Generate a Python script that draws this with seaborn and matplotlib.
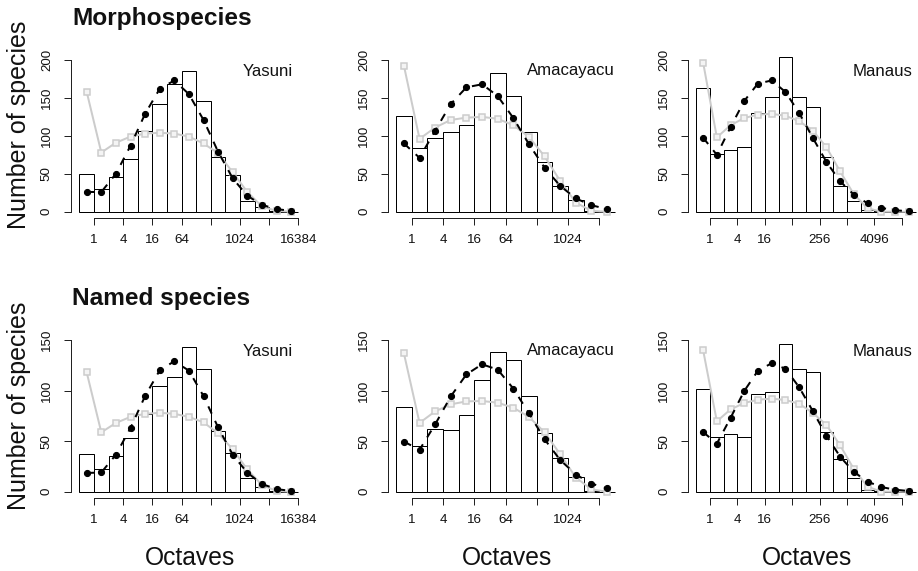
import numpy as np
import pandas as pd
import matplotlib
matplotlib.use("Agg")
import matplotlib.pyplot as plt
import seaborn as sns

# ---------------- data ----------------
sites = ["Yasuni", "Amacayacu", "Manaus"]
groups = ["Morphospecies", "Named species"]

yasuni_ticklabels = ["1", "4", "16", "64", "", "1024", "", "16384"]
amacayacu_ticklabels = ["1", "4", "16", "64", "", "1024", ""]
manaus_ticklabels = ["1", "4", "16", "", "256", "", "4096", ""]

# Morphospecies: observed (bars), black fitted (dashed), grey fitted (solid)
morpho_yasuni_obs = [50, 30, 46, 70, 106, 142, 168, 186, 146, 72, 48, 14, 6, 1, 0]
morpho_yasuni_black = [26, 26, 50, 87, 129, 162, 173, 155, 121, 79, 44, 21, 9, 3.5, 1]
morpho_yasuni_grey = [158, 78, 91, 99, 103, 104, 103, 99, 90, 77, 52, 26, 7, 1, 0.2]

morpho_amacayacu_obs = [126, 83.5, 96.7, 105.5, 114, 153, 183, 152, 105, 65.5, 34, 15, 1, 0]
morpho_amacayacu_black = [90, 71, 107, 142, 164, 168, 152.5, 123.5, 89, 58, 34, 17.5, 8.5, 3.5]
morpho_amacayacu_grey = [192.5, 96, 111, 121, 124, 125, 122.5, 114, 98.5, 73, 40.5, 12, 1, 0]

morpho_manaus_obs = [163.5, 76, 81, 85, 130, 151, 204, 151, 138.5, 71.5, 34, 14, 2, 1, 0.5, 0]
morpho_manaus_black = [97.5, 75, 111.5, 146, 169, 173, 158, 130.5, 97.5, 65.5, 40, 22.5, 11, 5, 2, 0.5]
morpho_manaus_grey = [196.5, 98, 114, 123.5, 128, 129, 126.5, 119.5, 107, 85, 53, 23, 4.5, 0, 0, 0]

# Named species
named_yasuni_obs = [37, 22, 35, 53, 77, 105, 113, 143.5, 121, 60, 38, 14, 5, 0.7, 0]
named_yasuni_black = [18.5, 19, 36.6, 63, 94.6, 120, 129, 119.7, 94.6, 63.6, 36.6, 18.8, 7.6, 2.6, 0.7]
named_yasuni_grey = [118, 58.7, 68, 74, 77, 78, 77, 74, 68.6, 57.7, 42, 22, 6.6, 0.7, 0]

named_amacayacu_obs = [84, 45, 62, 61, 76, 110, 138, 130, 95, 58, 33, 15, 1, 0]
named_amacayacu_black = [49.5, 41.5, 66.6, 94.3, 116, 126, 120.7, 102, 77.5, 51.8, 31.3, 17, 8, 3.3]
named_amacayacu_grey = [136.8, 68, 79.5, 86.4, 89.3, 89.7, 88, 83, 74, 58.7, 37, 14, 2.3, 0]

named_manaus_obs = [102, 54, 57, 54, 97, 99, 146, 121, 118, 59, 32.6, 14, 2, 1, 0.3, 0]
named_manaus_black = [59, 47.5, 73, 99.6, 119.7, 127, 121.6, 103.5, 79.8, 55.4, 34.6, 19.5, 10, 4.6, 2, 0.7]
named_manaus_grey = [139.8, 69.6, 81.4, 87.7, 91, 92, 90.7, 87, 78, 66, 45.8, 22.4, 5, 0, 0, 0]

yticks_morpho = [0, 50, 100, 150, 200]
yticks_named = [0, 50, 100, 150]

panels = [
    [(morpho_yasuni_obs, morpho_yasuni_black, morpho_yasuni_grey, yasuni_ticklabels),
     (morpho_amacayacu_obs, morpho_amacayacu_black, morpho_amacayacu_grey, amacayacu_ticklabels),
     (morpho_manaus_obs, morpho_manaus_black, morpho_manaus_grey, manaus_ticklabels)],
    [(named_yasuni_obs, named_yasuni_black, named_yasuni_grey, yasuni_ticklabels),
     (named_amacayacu_obs, named_amacayacu_black, named_amacayacu_grey, amacayacu_ticklabels),
     (named_manaus_obs, named_manaus_black, named_manaus_grey, manaus_ticklabels)],
]
row_yticks = [yticks_morpho, yticks_named]

# ---------------- layout (pixels) ----------------
W, H = 918, 571
col_layout = [
    dict(left=71.0, bar0=79.4, unit=14.6, right=309.0, site_right=293, xcenter=190),
    dict(left=388.3, bar0=396.1, unit=15.63, right=625.0, site_right=615, xcenter=507),
    dict(left=688.3, bar0=696.3, unit=13.7, right=918.0, site_right=912, xcenter=807),
]
row_layout = [
    dict(zero=211.7, ppu=0.7585, bottom=218.3, top=48.0, title_y=25, site_y=71, ylab_y=125),
    dict(zero=491.7, ppu=1.0113, bottom=498.3, top=328.0, title_y=305, site_y=351, ylab_y=406),
]

sns.set_theme(style="white")
plt.rcParams["font.family"] = ["Liberation Sans", "DejaVu Sans"]

fig = plt.figure(figsize=(W / 100, H / 100), dpi=100)
fig.patch.set_facecolor("white")

GREY = "#cccccc"
PX = 0.72  # points per pixel at 100 dpi

for r, rl in enumerate(row_layout):
    for c, cl in enumerate(col_layout):
        obs, black, grey, xlabels = panels[r][c]
        n = len(obs)
        rect = [cl["left"] / W, 1 - rl["bottom"] / H,
                (cl["right"] - cl["left"]) / W, (rl["bottom"] - rl["top"]) / H]
        ax = fig.add_axes(rect)
        ax.set_facecolor("none")

        centers = np.arange(n) - 0.5
        df = pd.DataFrame({"octave": centers, "obs": obs,
                           "black": black, "grey": grey})

        sns.barplot(data=df, x="octave", y="obs", ax=ax, native_scale=True,
                    width=1.0, color="white", saturation=1, edgecolor="black",
                    linewidth=1.0 * PX, errorbar=None, zorder=1)
        sns.lineplot(data=df, x="octave", y="grey", ax=ax, color=GREY, lw=2 * PX,
                     marker="s", ms=3.9, mfc="#f4f4f4", mec=GREY, mew=1.5 * PX,
                     zorder=2, clip_on=False)
        sns.lineplot(data=df, x="octave", y="black", ax=ax, color="black", lw=2 * PX,
                     dashes=(4, 4), marker="o", ms=4.4, mfc="black", mec="black",
                     zorder=3, clip_on=False)

        xmin = -1 - (cl["bar0"] - cl["left"]) / cl["unit"]
        xmax = -1 + (cl["right"] - cl["bar0"]) / cl["unit"]
        ax.set_xlim(xmin, xmax)
        ymin = -(rl["bottom"] - rl["zero"]) / rl["ppu"]
        ymax = (rl["zero"] - rl["top"]) / rl["ppu"]
        ax.set_ylim(ymin, ymax)

        xt = np.arange(0, 2 * len(xlabels), 2)
        ax.set_xticks(xt)
        ax.set_xticklabels(xlabels)
        yt = row_yticks[r]
        ax.set_yticks(yt)
        ax.set_yticklabels([str(v) for v in yt], rotation=90, va="center")

        for s in ["top", "right"]:
            ax.spines[s].set_visible(False)
        ax.spines["left"].set_bounds(yt[0], yt[-1])
        ax.spines["bottom"].set_bounds(xt[0], xt[-1])
        for s in ["left", "bottom"]:
            ax.spines[s].set_color("#222222")
            ax.spines[s].set_linewidth(1.0 * PX)
        ax.tick_params(axis="both", direction="out", length=7 * PX,
                       width=1.0 * PX, color="#222222", labelsize=9.6,
                       labelcolor="#111111")
        ax.tick_params(axis="y", pad=8, left=True)
        ax.tick_params(axis="x", pad=6, bottom=True)
        ax.set_xlabel("")
        ax.set_ylabel("")
        ax.grid(False)

        fig.text(cl["site_right"] / W, 1 - rl["site_y"] / H, sites[c],
                 ha="right", va="center", fontsize=12.1, color="#111111")

    fig.text(72 / W, 1 - rl["title_y"] / H, groups[r], ha="left",
             va="baseline", fontsize=17.6, fontweight="bold", color="#111111")
    fig.text(19 / W, 1 - rl["ylab_y"] / H, "Number of species", rotation=90,
             ha="center", va="center", fontsize=18, color="#111111")

for cl in col_layout:
    fig.text(cl["xcenter"] / W, 1 - 558 / H, "Octaves", ha="center",
             va="center", fontsize=17.7, color="#111111")

fig.savefig("out.png", dpi=100, facecolor="white")
